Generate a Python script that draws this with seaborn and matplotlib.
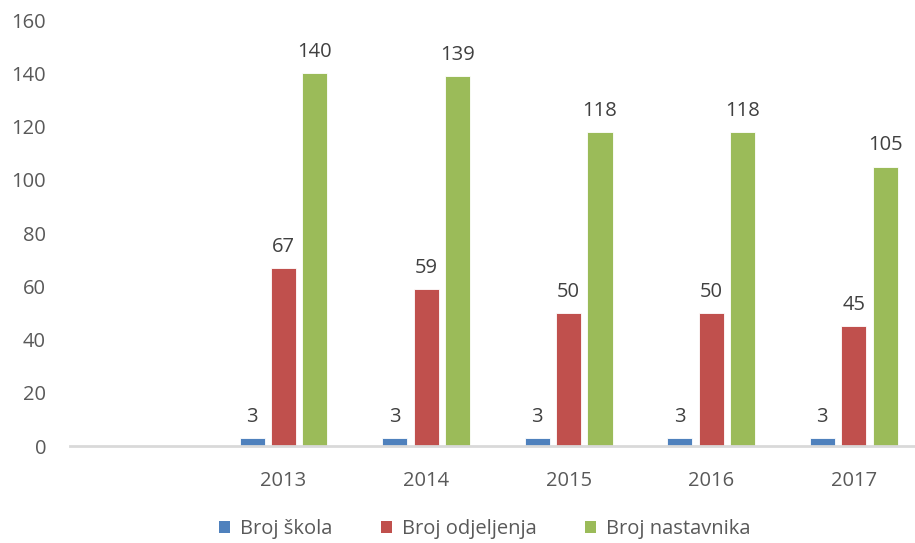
import numpy as np
import pandas as pd
import seaborn as sns
import matplotlib.pyplot as plt
from matplotlib.patches import Patch

# Data
years = ["2013", "2014", "2015", "2016", "2017"]
broj_skola = [3, 3, 3, 3, 3]
broj_odjeljenja = [67, 59, 50, 50, 45]
broj_nastavnika = [140, 139, 118, 118, 105]
series_names = ["Broj škola", "Broj odjeljenja", "Broj nastavnika"]
colors = ["#4F81BD", "#C0504D", "#9BBB59"]

df = pd.DataFrame({
    "year": years * 3,
    "series": np.repeat(series_names, len(years)),
    "value": broj_skola + broj_odjeljenja + broj_nastavnika,
})

sns.set_style("white")
plt.rcParams["font.family"] = ["Open Sans", "DejaVu Sans"]

fig = plt.figure(figsize=(9.15, 5.43), dpi=100)
ax = fig.add_axes([69.7 / 915, 0.1786, (915 - 69.7) / 915, 0.963 - 0.1786])

# empty first slot like the original sheet
order = [""] + years
sns.barplot(data=df, x="year", y="value", hue="series", order=order,
            hue_order=series_names, palette=colors, saturation=1,
            width=0.66, gap=0.2, edgecolor="white", linewidth=0.6,
            ax=ax, legend=False)

for cont in ax.containers:
    ax.bar_label(cont, fmt="%d", padding=8, fontsize=14.5, color="#404040")

ax.set_ylim(0, 160)
ax.set_xlim(-0.5, 5.43)
ax.set_yticks(range(0, 161, 20))
ax.set_xlabel("")
ax.set_ylabel("")
ax.tick_params(axis="both", length=0, labelsize=14.5, colors="#595959")
ax.tick_params(axis="y", pad=17)
ax.tick_params(axis="x", pad=18)
for s in ["top", "right", "left"]:
    ax.spines[s].set_visible(False)
ax.spines["bottom"].set_color("#D9D9D9")
ax.spines["bottom"].set_linewidth(2)

handles = [Patch(facecolor=c, edgecolor="none") for c in colors]
fig.legend(handles, series_names, loc="center", bbox_to_anchor=(0.53, 0.025),
           ncol=3, frameon=False, fontsize=14.5, labelcolor="#595959",
           handlelength=0.55, handleheight=0.55, handletextpad=0.5,
           columnspacing=2.4)

fig.savefig("out.png", dpi=100)
